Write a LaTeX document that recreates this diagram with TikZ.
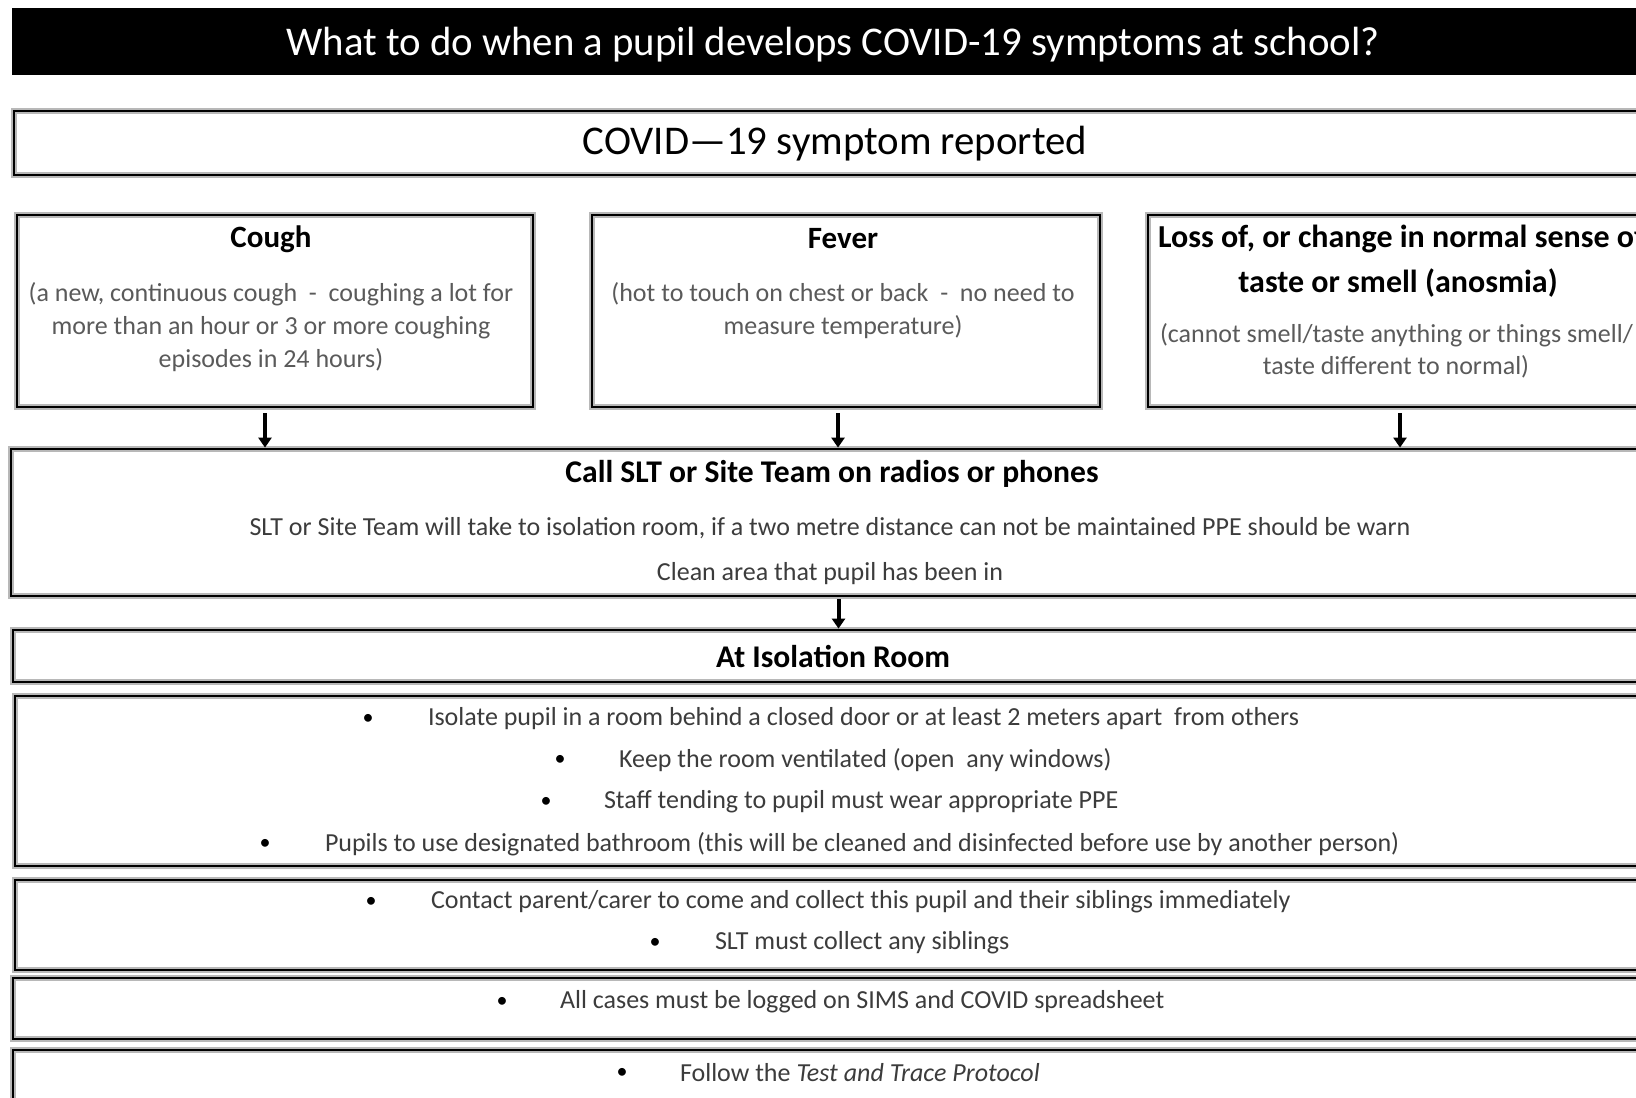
\documentclass[tikz,border=0pt]{standalone}
\usepackage{fontspec}
\setmainfont{Carlito}
\usetikzlibrary{arrows.meta,fit}
\definecolor{desc}{HTML}{5A5A5A}
\definecolor{itemc}{HTML}{3C3C3C}
\begin{document}
\begin{tikzpicture}[x=0.5pt,y=-0.5pt,
  box/.style={draw=black, line width=1.4pt, inner sep=0pt,
    preaction={draw=black!28, line width=2.8pt}},
  txt/.style={inner sep=0pt, outer sep=0pt},
  ttl/.style={txt, text=white, font=\fontsize{20.4}{24}\selectfont},
  hd/.style={txt, font=\fontsize{20.4}{24}\selectfont},
  bh/.style={txt, font=\bfseries\fontsize{15.5}{18}\selectfont},
  lh/.style={txt, font=\bfseries\fontsize{16}{18}\selectfont},
  sh/.style={txt, font=\bfseries\fontsize{15.8}{18}\selectfont},
  dsc/.style={txt, text=desc, font=\fontsize{13}{15}\selectfont},
  itm/.style={txt, text=itemc, font=\fontsize{13}{15}\selectfont},
  bul/.style={txt, text=black, font=\fontsize{11}{14}\selectfont},
  arr/.style={line width=2pt, -{Triangle[width=6.5pt,length=5pt]}}]
\useasboundingbox (0,0) rectangle (1636,1097);
\clip (0,0) rectangle (1636,1097);
\fill[white] (0,0) rectangle (1636,1097);

% title bar
\node[fill=black, inner sep=0pt, fit={(12,8) (1660,75)}] (bar) {};
\node[ttl] (title) at (833,45) {What to do when a pupil develops COVID-19 symptoms at school?};

% reported
\node[box, fit={(14,111) (1660,175)}] (rep) {};
\node[hd] (reptxt) at (835,144) {COVID—19 symptom reported};

% symptom boxes
\node[box, fit={(17,215) (533,407)}] (cough) {};
\node[bh] (coughh) at (271,239) {Cough};
\node[dsc] (cough1) at (271,294) {(a new, continuous cough\ \ -\ \ coughing a lot for};
\node[dsc] (cough2) at (271,328) {more than an hour or 3 or more coughing};
\node[dsc] (cough3) at (271,360) {episodes in 24 hours)};

\node[box, fit={(592,215) (1100,407)}] (fever) {};
\node[bh] (feverh) at (843,239) {Fever};
\node[dsc] (fever1) at (843,294) {(hot to touch on chest or back\ \ -\ \ no need to};
\node[dsc] (fever2) at (843,327) {measure temperature)};

\node[box, fit={(1148,215) (1660,407)}] (loss) {};
\node[lh, anchor=west] (lossh1) at (1158,239) {Loss of, or change in normal sense of};
\node[lh] (lossh2) at (1398,283) {taste or smell (anosmia)};
\node[dsc, anchor=west] (loss1) at (1160,335) {(cannot smell/taste anything or things smell/};
\node[dsc] (loss2) at (1396,367) {taste different to normal)};

% call box
\node[box, fit={(11,449) (1660,596)}] (call) {};
\node[sh] (callh) at (832,474) {Call SLT or Site Team on radios or phones};
\node[itm] (call1) at (830,528) {SLT or Site Team will take to isolation room, if a two metre distance can not be maintained PPE should be warn};
\node[itm] (call2) at (830,574) {Clean area that pupil has been in};

% isolation heading
\node[box, fit={(13,630) (1660,682)}] (iso) {};
\node[sh] (isoh) at (833,656) {At Isolation Room};

% list boxes
\node[box, fit={(15,696) (1660,866)}] (list1) {};
\node[bul] (b1) at (368,719) {•};
\node[itm, anchor=west] (t1) at (428,719) {Isolate pupil in a room behind a closed door or at least 2 meters apart\ \ from others};
\node[bul] (b2) at (560,760) {•};
\node[itm, anchor=west] (t2) at (619,760) {Keep the room ventilated (open\ \ any windows)};
\node[bul] (b3) at (546,802) {•};
\node[itm, anchor=west] (t3) at (604,802) {Staff tending to pupil must wear appropriate PPE};
\node[bul] (b4) at (265,844) {•};
\node[itm, anchor=west] (t4) at (325,844) {Pupils to use designated bathroom (this will be cleaned and disinfected before use by another person)};

\node[box, fit={(15,880) (1660,970)}] (list2) {};
\node[bul] (b5) at (371,902) {•};
\node[itm, anchor=west] (t5) at (431,902) {Contact parent/carer to come and collect this pupil and their siblings immediately};
\node[bul] (b6) at (655,943) {•};
\node[itm, anchor=west] (t6) at (715,943) {SLT must collect any siblings};

\node[box, fit={(13,978) (1660,1039)}] (list3) {};
\node[bul] (b7) at (502,1002) {•};
\node[itm, anchor=west] (t7) at (560,1002) {All cases must be logged on SIMS and COVID spreadsheet};

\node[box, fit={(13,1050) (1660,1130)}] (list4) {};
\node[bul] (b8) at (622,1073) {•};
\node[itm, anchor=west] (t8) at (680,1073) {Follow the \textit{Test and Trace Protocol}};

% arrows
\draw[arr, shorten <=2.5pt] ([xshift=-5pt]cough.south) -- ([xshift=-5pt]cough.south |- call.north);
\draw[arr, shorten <=2.5pt] ([xshift=-4pt]fever.south) -- ([xshift=-4pt]fever.south |- call.north);
\draw[arr, shorten <=2.5pt] ([xshift=-2pt]loss.south) -- ([xshift=-2pt]loss.south |- call.north);
\draw[arr, shorten <=1pt] ([xshift=1.5pt]call.south) -- ([xshift=1.5pt]call.south |- iso.north);
\end{tikzpicture}
\end{document}
